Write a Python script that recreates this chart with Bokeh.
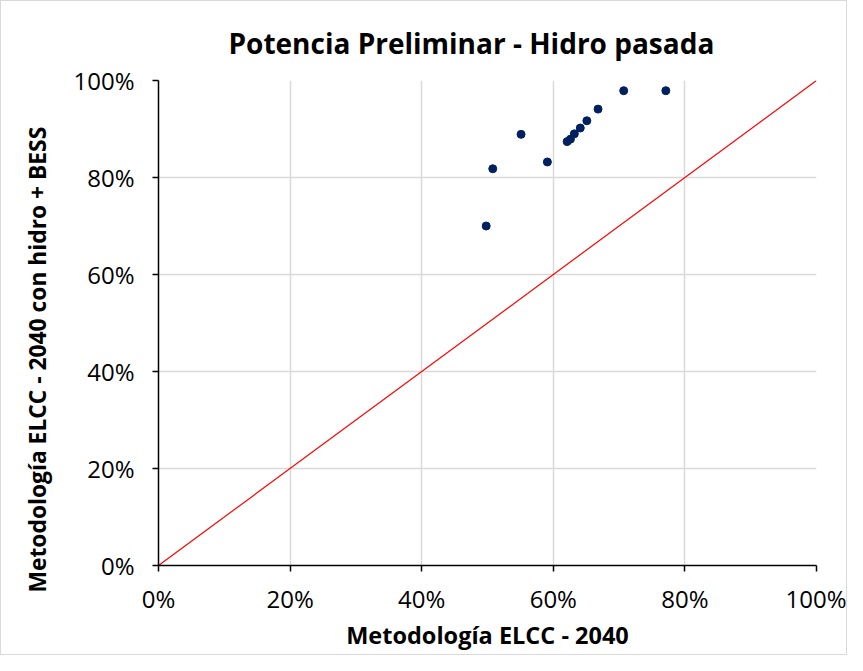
from bokeh.plotting import figure
from bokeh.models import ColumnDataSource, NumeralTickFormatter, FixedTicker, Range1d, Title
from bokeh.embed import file_html
from bokeh.resources import INLINE

# Data (fractions)
elcc_2040 = [0.498, 0.508, 0.551, 0.591, 0.621, 0.626, 0.632, 0.641, 0.651, 0.668, 0.707, 0.771]
elcc_hidro_bess = [0.700, 0.818, 0.889, 0.832, 0.874, 0.879, 0.890, 0.902, 0.917, 0.941, 0.979, 0.979]
diag_x = [0.0, 1.0]
diag_y = [0.0, 1.0]
ticks = [0.0, 0.2, 0.4, 0.6, 0.8, 1.0]

title_text = "Potencia Preliminar - Hidro pasada"
x_label = "Metodología ELCC - 2040"
y_label = "Metodología ELCC - 2040 con hidro + BESS"

FONT = "Open Sans"
W, H = 847, 655

p = figure(width=W, height=H, output_backend="svg", toolbar_location=None,
           x_range=Range1d(0, 1), y_range=Range1d(0, 1),
           min_border_left=157, min_border_right=32, min_border_top=79, min_border_bottom=91,
           background_fill_color="white", border_fill_color="white")
p.styles = {"border": "1px solid #d9d9d9"}

p.title.text = title_text
p.title.align = "left"
p.title.offset = 70
p.title.standoff = 37
p.title.text_font = FONT
p.title.text_font_size = "28px"
p.title.text_font_style = "bold"
p.title.text_color = "black"

p.outline_line_color = None

for ax in (p.xaxis[0], p.yaxis[0]):
    ax.ticker = FixedTicker(ticks=ticks)
    ax.formatter = NumeralTickFormatter(format="0%")
    ax.major_label_text_font = FONT
    ax.major_label_text_font_size = "24px"
    ax.major_label_text_color = "black"
    ax.axis_label_text_font = FONT
    ax.axis_label_text_font_size = "23.5px"
    ax.axis_label_text_font_style = "bold"
    ax.axis_label_text_color = "black"
    ax.axis_line_color = "black"
    ax.axis_line_width = 1.5
    ax.major_tick_line_color = "black"
    ax.major_tick_line_width = 1.5
    ax.major_tick_out = 6
    ax.major_tick_in = 0
    ax.minor_tick_line_color = None

p.xaxis.axis_label = x_label
p.xaxis.major_label_standoff = 10
p.xaxis.axis_label_standoff = 1
p.yaxis.major_label_standoff = 18

ylab = Title(text=y_label, align="left", offset=-27, standoff=36,
             text_font=FONT, text_font_size="22.8px", text_font_style="bold",
             text_color="black")
p.add_layout(ylab, "left")

p.xgrid.ticker = FixedTicker(ticks=ticks)
p.ygrid.ticker = FixedTicker(ticks=ticks)
p.grid.grid_line_color = "#d9d9d9"
p.grid.grid_line_width = 1.5

p.line(diag_x, diag_y, line_color="red", line_width=1.2)

src = ColumnDataSource(dict(x=elcc_2040, y=elcc_hidro_bess))
p.scatter("x", "y", source=src, size=8, fill_color="#002060", line_color="#002060")

open("out.html", "w").write(file_html(p, INLINE))
